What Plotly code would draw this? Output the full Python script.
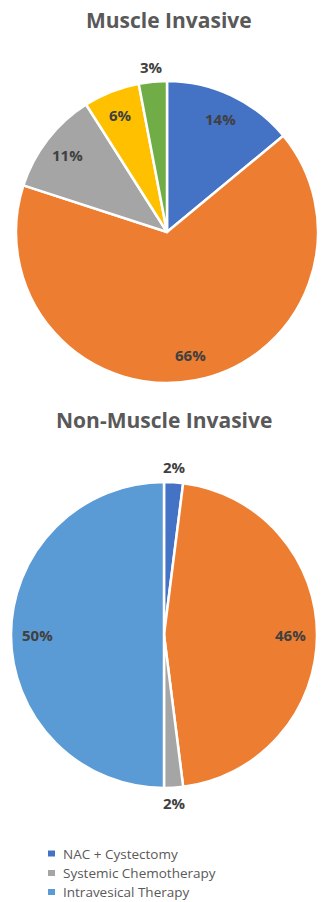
import math
import plotly.graph_objects as go

# --- data -------------------------------------------------------------
mi_labels = ["NAC + Cystectomy", "Treatment B", "Systemic Chemotherapy", "Treatment D", "Treatment E"]
mi_values = [14, 66, 11, 6, 3]
mi_colors = ["#4472C4", "#ED7D31", "#A5A5A5", "#FFC000", "#70AD47"]

nmi_labels = ["NAC + Cystectomy", "Treatment B", "Systemic Chemotherapy", "Intravesical Therapy"]
nmi_values = [2, 46, 2, 50]
nmi_colors = ["#4472C4", "#ED7D31", "#A5A5A5", "#5B9BD5"]

legend_names = ["NAC + Cystectomy", "Systemic Chemotherapy", "Intravesical Therapy"]
legend_colors = ["#4472C4", "#A5A5A5", "#5B9BD5"]

W, H = 321, 902
FONT = "Open Sans"
TEXT_DARK = "#404040"
TEXT_GREY = "#595959"

# pie geometry in pixels: (center x, center y from top, radius)
TOP_PIE = (167, 232, 151)
BOTTOM_PIE = (164, 635, 153)


def domain(cx, cy, r):
    return dict(x=[(cx - r) / W, (cx + r) / W],
                y=[1 - (cy + r) / H, 1 - (cy - r) / H])


def label_annotations(values, geom, outside_below=5):
    """Percent labels placed along each slice's mid-angle (clockwise from 12 o'clock)."""
    cx, cy, r = geom
    total = float(sum(values))
    anns = []
    cum = 0.0
    for v in values:
        mid = (cum + v / 2) / total * 2 * math.pi
        cum += v
        k = 1.1 if v < outside_below else 0.83
        px = cx + k * r * math.sin(mid)
        py = cy - k * r * math.cos(mid)
        anns.append(dict(
            x=px / W, y=1 - py / H, xref="paper", yref="paper",
            text=f"<b>{v}%</b>", showarrow=False,
            xanchor="center", yanchor="middle",
            font=dict(family=FONT, size=15, color=TEXT_DARK),
        ))
    return anns


fig = go.Figure()

fig.add_trace(go.Pie(
    labels=mi_labels, values=mi_values, sort=False, direction="clockwise",
    rotation=0, textinfo="none", hoverinfo="label+percent",
    marker=dict(colors=mi_colors, line=dict(color="white", width=2.5)),
    domain=domain(*TOP_PIE), showlegend=False,
))

fig.add_trace(go.Pie(
    labels=nmi_labels, values=nmi_values, sort=False, direction="clockwise",
    rotation=0, textinfo="none", hoverinfo="label+percent",
    marker=dict(colors=nmi_colors, line=dict(color="white", width=2.5)),
    domain=domain(*BOTTOM_PIE), showlegend=False,
))

annotations = []
annotations += label_annotations(mi_values, TOP_PIE)
annotations += label_annotations(nmi_values, BOTTOM_PIE)

# chart titles
for text, x, y in [("Muscle Invasive", 169, 20), ("Non-Muscle Invasive", 164, 420)]:
    annotations.append(dict(
        x=x / W, y=1 - y / H, xref="paper", yref="paper",
        text=f"<b>{text}</b>", showarrow=False,
        xanchor="center", yanchor="middle",
        font=dict(family=FONT, size=21, color=TEXT_GREY),
    ))

# legend rows
shapes = []
row_y = [853.5, 873, 892]
for name, color, y in zip(legend_names, legend_colors, row_y):
    shapes.append(dict(
        type="rect", xref="paper", yref="paper",
        x0=48 / W, x1=55 / W, y0=1 - (y + 3) / H, y1=1 - (y - 3) / H,
        fillcolor=color, line=dict(width=0),
    ))
    annotations.append(dict(
        x=62 / W, y=1 - y / H, xref="paper", yref="paper",
        text=name, showarrow=False, xanchor="left", yanchor="middle",
        borderpad=0,
        font=dict(family=FONT, size=13.5, color=TEXT_GREY),
    ))

fig.update_layout(
    width=W, height=H,
    margin=dict(l=0, r=0, t=0, b=0),
    paper_bgcolor="white", plot_bgcolor="white",
    annotations=annotations, shapes=shapes,
)

fig.write_html("out.html", config={"displayModeBar": False})
